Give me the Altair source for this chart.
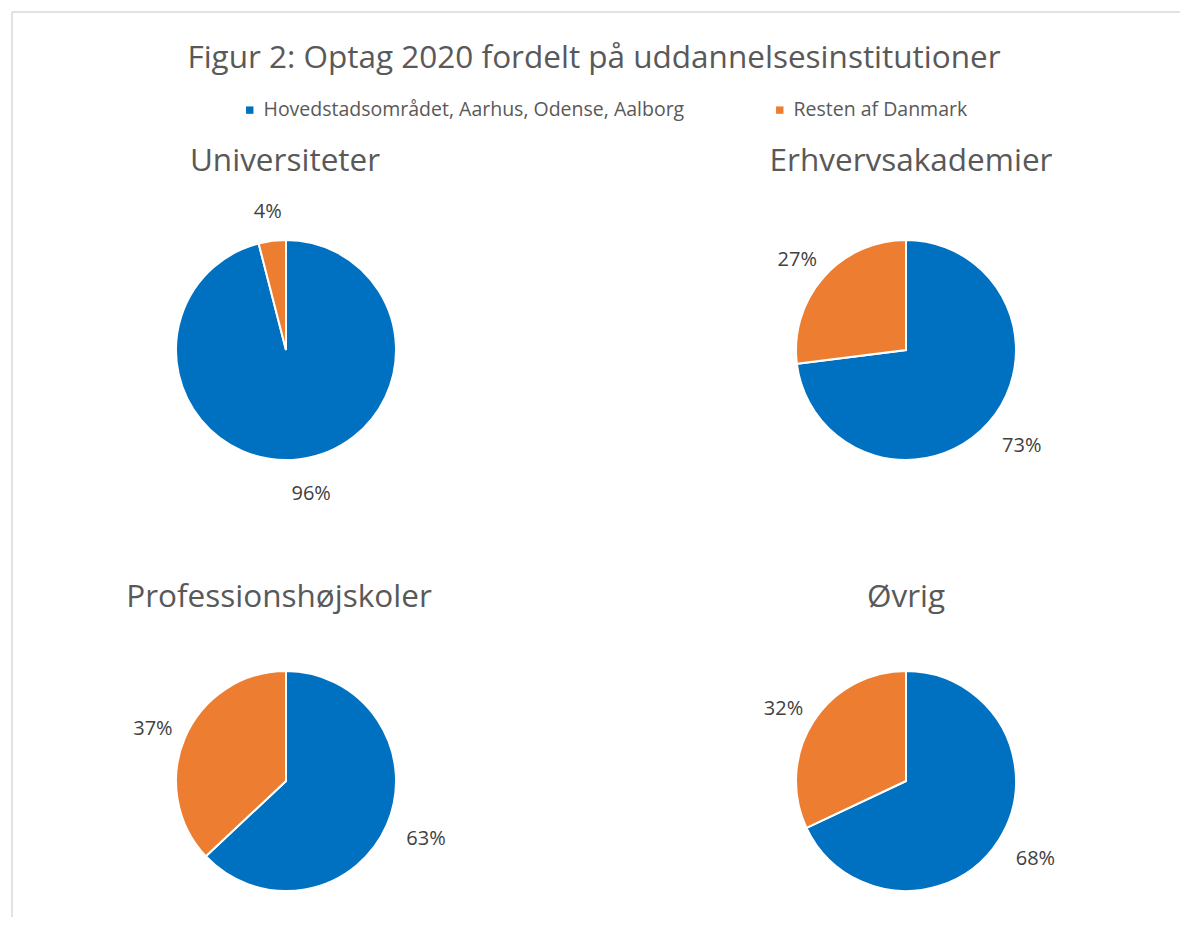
import altair as alt
import pandas as pd

title_text = "Figur 2: Optag 2020 fordelt på uddannelsesinstitutioner"
institutions = ["Universiteter", "Erhvervsakademier", "Professionshøjskoler", "Øvrig"]
regions = ["Hovedstadsområdet, Aarhus, Odense, Aalborg", "Resten af Danmark"]
storby_pct = [96, 73, 63, 68]
resten_pct = [4, 27, 37, 32]
colors = ["#0070C0", "#ED7D31"]

rows = []
for i, inst in enumerate(institutions):
    rows.append({"inst": inst, "region": regions[0], "pct": storby_pct[i], "ord": 0,
                 "label": f"{storby_pct[i]}%"})
    rows.append({"inst": inst, "region": regions[1], "pct": resten_pct[i], "ord": 1,
                 "label": f"{resten_pct[i]}%"})
df = pd.DataFrame(rows)

FONT = "Open Sans"
W, H = 1172, 909
R = 110
# layout positions (pie centre x, centre y, subtitle x, subtitle baseline y)
layout = {
    "Universiteter": (278, 342, 277, 163),
    "Erhvervsakademier": (898, 342, 903, 163),
    "Professionshøjskoler": (278, 773, 271, 599),
    "Øvrig": (898, 773, 898, 599),
}

theta = alt.Theta("pct:Q", stack=True, scale=alt.Scale(domain=[0, 100]))
color = alt.Color(
    "region:N",
    scale=alt.Scale(domain=regions, range=colors),
    legend=alt.Legend(
        title=None, orient="none", legendX=232, legendY=92, direction="horizontal",
        symbolType="square", symbolSize=55, labelFontSize=19.5, labelFont=FONT,
        labelColor="#595959", columnPadding=85, symbolStrokeWidth=0, labelLimit=600,
    ),
)

layers = []
for inst in institutions:
    cx, cy, tx, ty = layout[inst]
    base = alt.Chart(df).transform_filter(alt.datum.inst == inst)
    pie = base.mark_arc(outerRadius=R, stroke="white", strokeWidth=2).encode(
        theta=theta, color=color, order=alt.Order("ord:Q"),
        x=alt.value(cx), y=alt.value(cy),
    )
    lab_main = base.mark_text(radius=145, dx=7, font=FONT, fontSize=20,
                              color="#404040").encode(
        theta=theta, order=alt.Order("ord:Q"),
        text=alt.condition(alt.datum.ord == 0, "label:N", alt.value("")),
        x=alt.value(cx), y=alt.value(cy),
    )
    lab_rest = base.mark_text(radius=145, dy=6, font=FONT, fontSize=20,
                              color="#404040").encode(
        theta=theta, order=alt.Order("ord:Q"),
        text=alt.condition(alt.datum.ord == 1, "label:N", alt.value("")),
        x=alt.value(cx), y=alt.value(cy),
    )
    sub = alt.Chart(pd.DataFrame({"t": [inst]})).mark_text(
        font=FONT, fontSize=31.5, color="#595959", baseline="alphabetic", align="center"
    ).encode(text="t:N", x=alt.value(tx), y=alt.value(ty))
    layers += [pie, lab_main, lab_rest, sub]

title = alt.Chart(pd.DataFrame({"t": [title_text]})).mark_text(
    font=FONT, fontSize=31.5, color="#595959", baseline="alphabetic", align="center"
).encode(text="t:N", x=alt.value(586), y=alt.value(60))

one = pd.DataFrame({"a": [0]})
border_top = alt.Chart(one).mark_rule(color="#d9d9d9", strokeWidth=1.5).encode(
    x=alt.value(4), x2=alt.value(W), y=alt.value(4))
border_left = alt.Chart(one).mark_rule(color="#d9d9d9", strokeWidth=1.5).encode(
    x=alt.value(4), y=alt.value(4), y2=alt.value(H))

chart = alt.layer(border_top, border_left, title, *layers).properties(
    width=W, height=H, autosize=alt.AutoSizeParams(type="none"), padding=0,
    background="white",
).configure_view(stroke=None)

chart.save("out.html", embed_options={"renderer": "svg", "actions": False})
